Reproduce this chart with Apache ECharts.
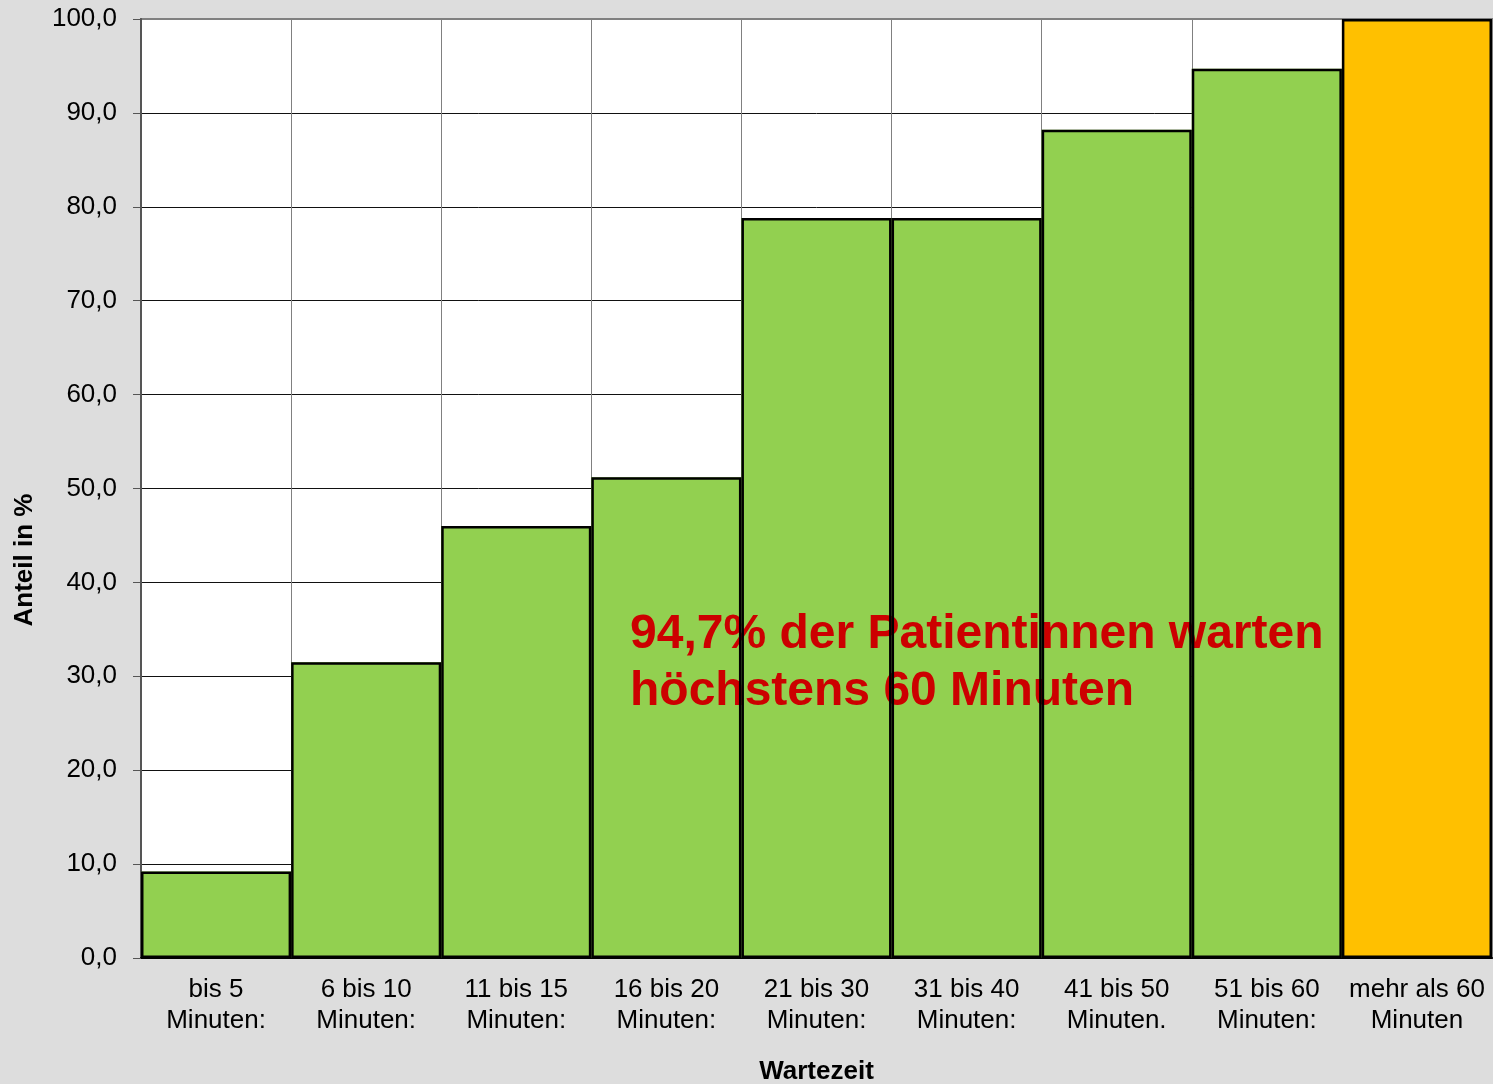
<!DOCTYPE html>
<html>
<head>
<meta charset="utf-8">
<script src="https://cdn.jsdelivr.net/npm/echarts@6/dist/echarts.min.js"></script>
<style>
  html, body { margin: 0; padding: 0; background: #dddddd; }
  #chart { width: 1493px; height: 1084px; }
</style>
</head>
<body>
<div id="chart"></div>
<script>
  // Wartezeit-Kategorien (kumulierter Anteil in %)
  var categories = ['bis 5\nMinuten:', '6 bis 10\nMinuten:', '11 bis 15\nMinuten:', '16 bis 20\nMinuten:',
    '21 bis 30\nMinuten:', '31 bis 40\nMinuten:', '41 bis 50\nMinuten.', '51 bis 60\nMinuten:', 'mehr als 60\nMinuten']
  var anteil = [9.2, 31.5, 46.0, 51.2, 78.8, 78.8, 88.2, 94.7, 100.0]
  var barColors = ['#92d050', '#92d050', '#92d050', '#92d050', '#92d050', '#92d050', '#92d050', '#92d050', '#ffc000']
  var note = '94,7% der Patientinnen warten\nhöchstens 60 Minuten'

  var font = '"Liberation Sans", Arial, sans-serif'
  var chart = echarts.init(document.getElementById('chart'))

  // gridlines black, top one gray (plot border)
  var splitColors = []
  for (var i = 0; i <= 10; i++) splitColors.push(i == 10 ? '#808080' : '#111111')

  var option = {
    backgroundColor: '#dddddd',
    animation: false,
    grid: {
      left: 141, right: 1, top: 19, bottom: 126,
      outerBoundsMode: 'none',
      containLabel: false,
      show: true,
      backgroundColor: '#ffffff',
      borderColor: '#808080',
      borderWidth: 2,
    },
    xAxis: {
      type: 'category',
      data: categories,
      name: 'Wartezeit',
      nameLocation: 'middle',
      nameGap: 101,
      nameTextStyle: { fontFamily: font, fontSize: 26, fontWeight: 'bold', color: '#000' },
      axisLine: { lineStyle: { color: '#000', width: 2 } },
      axisTick: { length: 8, lineStyle: { color: '#555' } },
      axisLabel: { fontFamily: font, fontSize: 26, color: '#000', lineHeight: 31, margin: 16, interval: 0 },
      splitLine: { show: true, lineStyle: { color: '#808080', width: 1 } },
    },
    yAxis: {
      type: 'value',
      min: 0,
      max: 100,
      interval: 10,
      axisLine: { show: true, lineStyle: { color: '#555', width: 2 } },
      axisTick: { show: true, length: 8, lineStyle: { color: '#555' } },
      axisLabel: {
        fontFamily: font, fontSize: 26, color: '#000', margin: 24,
        formatter: function (v) { return v.toFixed(1).replace('.', ',') },
      },
      splitLine: { show: true, lineStyle: { color: splitColors, width: 1 } },
    },
    graphic: [
      {
        type: 'text', z: 5,
        left: 630, top: 606,
        style: { text: note, font: 'bold 48px ' + font, fill: '#cc0000', lineHeight: 57 },
      },
      {
        type: 'text', z: 5,
        x: 25, y: 560, rotation: Math.PI / 2,
        style: { text: 'Anteil in %', font: 'bold 26px ' + font, fill: '#000', align: 'center', verticalAlign: 'middle' },
      },
    ],
    series: [
      {
        type: 'bar',
        z: 2,
        barWidth: '100%',
        data: anteil.map(function (v, i) { return { value: v, itemStyle: { color: barColors[i] } } }),
        itemStyle: { borderWidth: 0 },
      },
      {
        // outlines drawn above the note text
        type: 'bar',
        z: 10,
        barWidth: '100%',
        barGap: '-100%',
        data: anteil,
        silent: true,
        itemStyle: { color: 'rgba(0,0,0,0)', borderColor: '#000', borderWidth: 2.5 },
      },
    ],
  }
  chart.setOption(option)
</script>
</body>
</html>
